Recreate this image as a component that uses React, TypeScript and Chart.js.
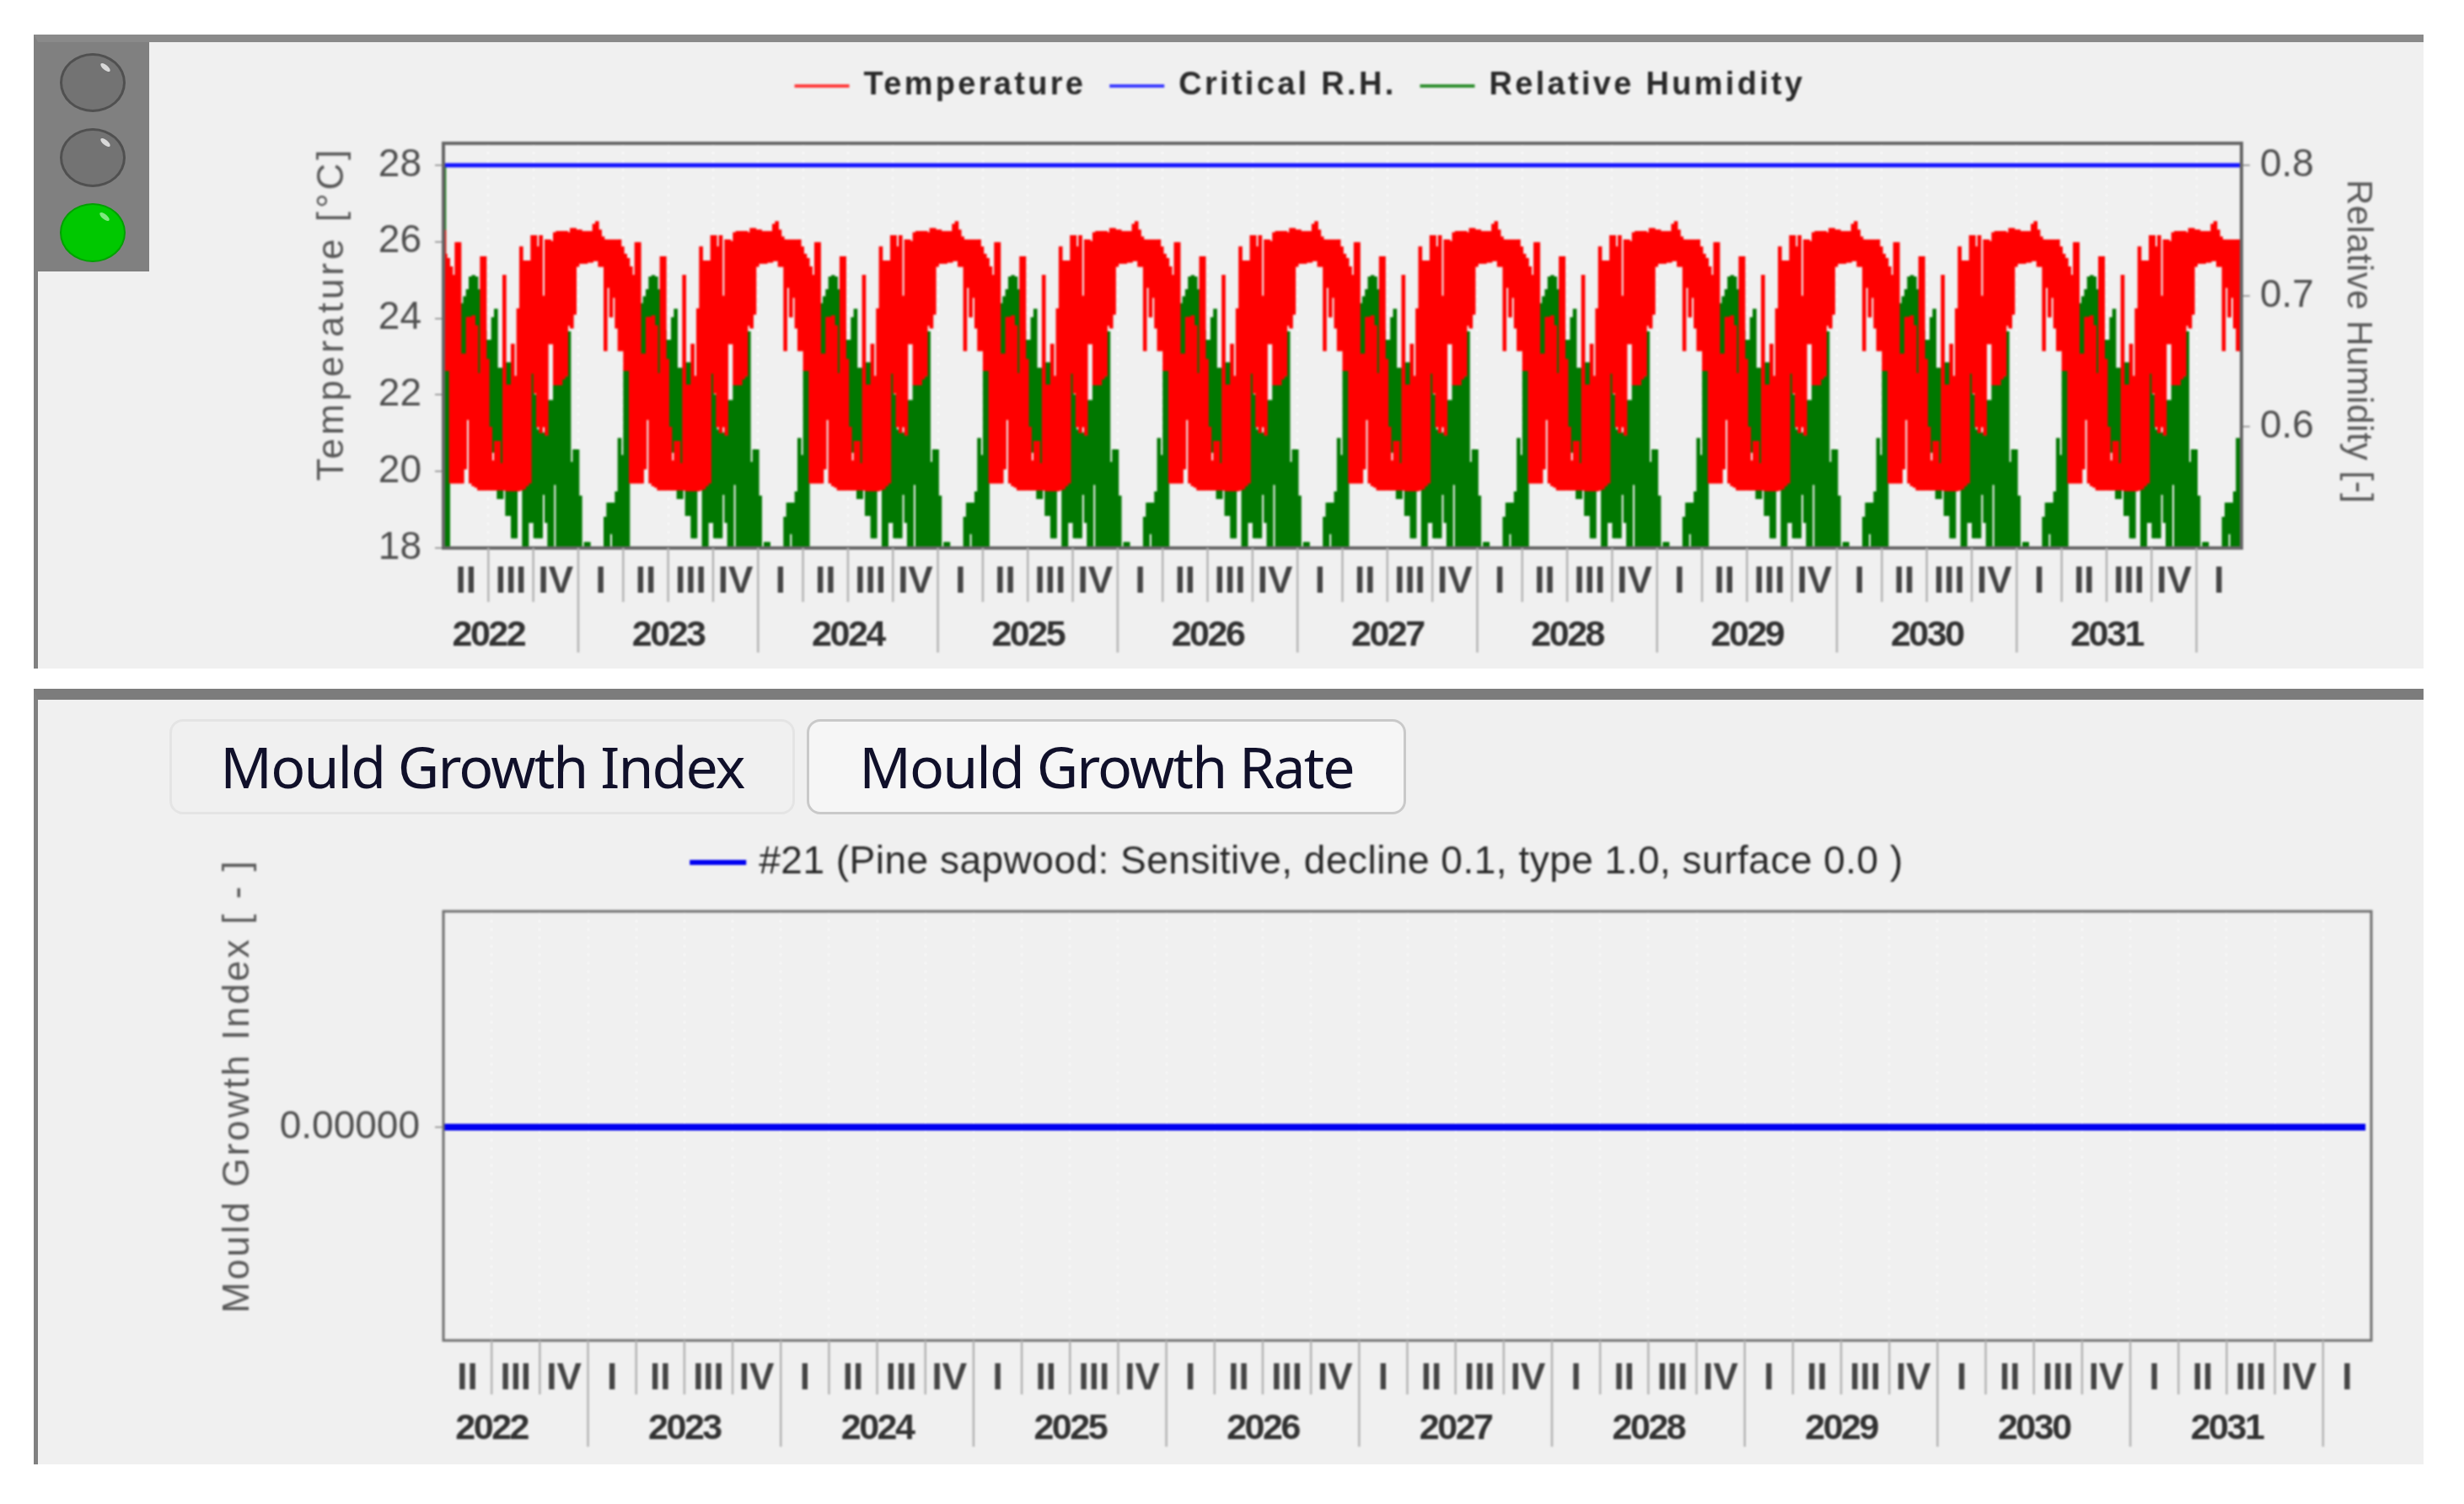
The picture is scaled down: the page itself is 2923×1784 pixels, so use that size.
import { useEffect, useRef } from "react"
import { Chart, registerables } from "chart.js"

Chart.register(...registerables)

const firstYear = 2022
const startTime = 2022.25
const endTime = 2032.25
const yearLabels = [2022, 2023, 2024, 2025, 2026, 2027, 2028, 2029, 2030, 2031]
const quarterNames = ["I", "II", "III", "IV"]

// one simulated year, April to April. the weather file repeats every year
const tempHigh = [
  25.68, 25.57, 25.35, 25.13, 25.98, 25.98, 23.07, 23.07, 24.03, 24.03, 24.07, 23.81, 22.56, 25.61, 25.61, 22.93,
  21.16, 20.28, 20.79, 20.79, 20.21, 25.13, 22.26, 22.26, 23.33, 22.49, 24.25, 25.87, 25.5, 25.5, 25.5, 26.16,
  26.16, 25.87, 26.16, 24.58, 26.05, 26.05, 26.01, 26.24, 26.27, 26.27, 26.27, 26.27, 26.24, 26.35, 26.35, 26.31,
  26.31, 26.27, 26.27, 26.27, 26.27, 26.46, 26.53, 26.31, 26.13, 26.05, 26.05, 26.05, 26.05, 26.05, 26.05, 25.87,
]
const tempLow = [
  22.63, 22.63, 19.69, 19.69, 19.69, 19.69, 19.69, 20.06, 21.35, 19.69, 19.62, 19.58, 19.51, 19.51, 19.51, 19.51,
  19.51, 19.51, 19.51, 19.51, 19.51, 19.51, 19.49, 19.49, 19.49, 19.49, 19.49, 19.51, 19.54, 19.62, 19.69, 22.56,
  22.04, 21.16, 21.01, 21.16, 20.94, 23.33, 23.33, 22.26, 22.26, 22.26, 22.41, 22.49, 23.81, 23.74, 24.1, 25.35,
  25.43, 25.43, 25.43, 25.46, 25.46, 25.5, 25.5, 25.35, 25.35, 23.15, 24.8, 24.03, 24.54, 23.74, 23.15, 23.15,
]
const rhHigh = [
  0.6426, 0.6426, null, null, null, null, 0.6942, 0.6995, 0.7049, 0.7146, 0.7157, 0.7146, 0.7049, 0.6727, 0.6737, 0.6662,
  0.6662, 0.6834, 0.6899, 0.6447, 0.6447, null, 0.649, 0.649, 0.5651, 0.5651, null, null, 0.5651, 0.5651, 0.5651, 0.6404,
  0.6243, 0.5974, 0.5953, 0.5953, 0.5931, 0.62, 0.62, 0.6318, 0.6318, 0.6318, 0.6361, 0.6383, 0.6727, 0.5727, 0.5823, 0.5823,
  0.5469, null, 0.5114, 0.5114, null, null, null, null, null, 0.5307, 0.5415, 0.5415, 0.5415, 0.5501, 0.591, 0.578,
]
const rhLow = [
  0.507, 0.507, null, null, null, null, 0.6512, 0.6512, 0.662, 0.662, 0.662, 0.662, 0.6404, 0.6404, 0.6081, 0.5974,
  0.5888, 0.5802, 0.5888, 0.5447, 0.5447, null, 0.5318, 0.5318, 0.5146, 0.5146, null, null, 0.507, 0.507, 0.5264, 0.5264,
  0.5146, 0.5146, 0.5146, 0.5479, 0.5264, 0.507, 0.507, 0.5555, 0.507, 0.507, 0.507, 0.507, 0.507, 0.507, 0.507, 0.507,
  0.507, null, 0.507, 0.507, null, null, null, null, null, 0.507, 0.507, 0.5178, 0.507, 0.507, 0.507, 0.507,
]
const criticalTimes = [2022.25, 2032.25]
const criticalRH = [0.8, 0.8]
const mouldTimes = [2022.25, 2032.22]
const mouldIndex = [0, 0]

const temperatureTicks = [18, 20, 22, 24, 26, 28]
const humidityTicks = [0.6, 0.7, 0.8]

function repeatYears(high: (number | null)[], low: (number | null)[]) {
  const out: { x: number; y: [number, number] }[] = []
  yearLabels.forEach((_, y) => {
    high.forEach((h, i) => {
      const l = low[i]
      if (h === null || l === null) return
      out.push({ x: startTime + y + (i + 0.7) / high.length, y: [l, h] })
    })
  })
  return out
}

function quarterBoundaries() {
  const out: number[] = []
  for (let t = startTime; t <= endTime; t += 0.25) out.push(t)
  return out
}

function dottedGrid(scale: any) {
  scale.ticks = quarterBoundaries().map((value) => ({ value }))
}

// draws the two-row time axis under the plot, with roman quarters and years
function drawTimeAxis(chart: any, quarterY: number, yearY: number, quarterEnd: number, yearEnd: number) {
  const { ctx, chartArea, scales } = chart
  const x = scales.x
  ctx.save()
  ctx.textAlign = "center"
  ctx.textBaseline = "middle"
  quarterBoundaries().forEach((t, n) => {
    const px = x.getPixelForValue(t)
    const isYear = Number.isInteger(t)
    if (n > 0 && t < endTime) {
      ctx.strokeStyle = "#b4b4b4"
      ctx.lineWidth = 2.5
      ctx.beginPath()
      ctx.moveTo(px, chartArea.bottom)
      ctx.lineTo(px, isYear ? yearEnd : quarterEnd)
      ctx.stroke()
    }
    if (t < endTime) {
      ctx.fillStyle = "#444444"
      ctx.font = "bold 44px 'Liberation Sans'"
      ctx.fillText(quarterNames[Math.round((t - firstYear) * 4) % 4], x.getPixelForValue(t + 0.125), quarterY)
    }
  })
  ctx.fillStyle = "#333333"
  ctx.font = "bold 43px 'Liberation Sans'"
  ctx.letterSpacing = "-2.5px"
  yearLabels.forEach((year) => ctx.fillText(String(year), x.getPixelForValue(year + 0.5), yearY))
  ctx.restore()
}

function drawLegend(chart: any, items: any[], y: number, font: string, spacing: string, swatch: number, textGap: number, itemGap: number) {
  const { ctx, width } = chart
  ctx.save()
  ctx.font = font
  ctx.letterSpacing = spacing
  ctx.textBaseline = "middle"
  const total = items.reduce((sum, it) => sum + swatch + textGap + ctx.measureText(it.label).width, 0) + itemGap * (items.length - 1)
  let cursor = width / 2 - total / 2
  items.forEach((it) => {
    ctx.strokeStyle = it.color
    ctx.lineWidth = it.lineWidth
    ctx.beginPath()
    ctx.moveTo(cursor, y)
    ctx.lineTo(cursor + swatch, y)
    ctx.stroke()
    cursor += swatch + textGap
    ctx.fillStyle = "#2a2a2a"
    ctx.fillText(it.label, cursor, y)
    cursor += ctx.measureText(it.label).width + itemGap
  })
  ctx.restore()
}

function drawRotated(chart: any, text: string, x: number, y: number, angle: number, font: string, spacing: string) {
  const { ctx } = chart
  ctx.save()
  ctx.translate(x, y)
  ctx.rotate(angle)
  ctx.font = font
  ctx.letterSpacing = spacing
  ctx.fillStyle = "#5a5a5a"
  ctx.textAlign = "center"
  ctx.textBaseline = "middle"
  ctx.fillText(text, 0, 0)
  ctx.restore()
}

function drawFrame(chart: any, width: number, color: string) {
  const { ctx, chartArea: a } = chart
  ctx.save()
  ctx.strokeStyle = color
  ctx.lineWidth = width
  ctx.strokeRect(a.left, a.top, a.right - a.left, a.bottom - a.top)
  ctx.restore()
}

function TemperatureChart() {
  const chartRef = useRef<HTMLCanvasElement>(null)
  const chartInstance = useRef<Chart | null>(null)

  useEffect(() => {
    if (!chartRef.current) return
    const ctx = chartRef.current.getContext("2d")
    if (!ctx) return

    chartInstance.current = new Chart(ctx, {
      type: "bar",
      data: {
        datasets: [
          {
            label: "Temperature",
            data: [{ x: startTime + 0.004, y: [23.15, 26.3] }, ...repeatYears(tempHigh, tempLow)],
            backgroundColor: "#ff0000",
            yAxisID: "y",
            barThickness: 4,
            grouped: false,
            order: 2,
          },
          {
            type: "line",
            label: "Critical R.H.",
            data: criticalTimes.map((x, i) => ({ x, y: criticalRH[i] })),
            borderColor: "#1212ff",
            borderWidth: 5,
            pointRadius: 0,
            yAxisID: "y1",
            order: 1,
          },
          {
            label: "Relative Humidity",
            data: [{ x: startTime + 0.004, y: [0.507, 0.8] }, ...repeatYears(rhHigh, rhLow)],
            backgroundColor: "#007800",
            yAxisID: "y1",
            barThickness: 4,
            grouped: false,
            order: 3,
          },
        ] as any,
      },
      options: {
        animation: false,
        responsive: false,
        devicePixelRatio: 1,
        layout: { padding: { top: 118, left: 0, right: 0, bottom: 0 } },
        plugins: { legend: { display: false }, tooltip: { enabled: false } },
        scales: {
          x: {
            type: "linear",
            min: startTime,
            max: endTime,
            offset: false,
            afterBuildTicks: dottedGrid,
            afterFit: (s: any) => { s.height = 142 },
            ticks: { display: false },
            grid: { offset: false, color: "rgba(255,255,255,0.75)", lineWidth: 2, drawTicks: false },
            border: { display: false, dash: [3, 7] },
          },
          y: {
            position: "left",
            min: 18,
            max: 28.57,
            afterBuildTicks: (s: any) => { s.ticks = temperatureTicks.map((value) => ({ value })) },
            afterFit: (s: any) => { s.width = 317 },
            ticks: { color: "#505050", font: { family: "Liberation Sans", size: 46 }, padding: 16 },
            grid: { drawOnChartArea: false, tickLength: 10, color: "#a0a0a0", lineWidth: 2 },
            border: { display: false },
          },
          y1: {
            position: "right",
            min: 0.507,
            max: 0.8168,
            afterBuildTicks: (s: any) => { s.ticks = humidityTicks.map((value) => ({ value })) },
            afterFit: (s: any) => { s.width = 216 },
            ticks: { color: "#505050", font: { family: "Liberation Sans", size: 46 }, padding: 12, callback: (v: any) => Number(v).toFixed(1) },
            grid: { drawOnChartArea: false, tickLength: 10, color: "#a0a0a0", lineWidth: 2 },
            border: { display: false },
          },
        },
      },
      plugins: [
        {
          id: "upperDecor",
          afterDraw(chart: any) {
            drawFrame(chart, 4, "#666666")
            drawTimeAxis(chart, 639, 702, 662, 722)
            drawLegend(
              chart,
              [
                { label: "Temperature", color: "#ff3c3c", lineWidth: 4 },
                { label: "Critical R.H.", color: "#3c3cff", lineWidth: 4 },
                { label: "Relative Humidity", color: "#2f8f2f", lineWidth: 4 },
              ],
              50,
              "bold 38px 'Liberation Sans'",
              "3.3px",
              65,
              17,
              28
            )
            drawRotated(chart, "Temperature [°C]", 186, 320, -Math.PI / 2, "44px 'Liberation Sans'", "4px")
            drawRotated(chart, "Relative Humidity [-]", 2588, 353, Math.PI / 2, "42px 'Liberation Sans'", "0.4px")
          },
        },
      ],
    })

    return () => {
      if (chartInstance.current) {
        chartInstance.current.destroy()
      }
    }
  }, [])

  return <canvas ref={chartRef} width={2666} height={740} style={{ position: "absolute", left: 209, top: 52, filter: "blur(0.8px)" }}></canvas>
}

function MouldChart() {
  const chartRef = useRef<HTMLCanvasElement>(null)
  const chartInstance = useRef<Chart | null>(null)

  useEffect(() => {
    if (!chartRef.current) return
    const ctx = chartRef.current.getContext("2d")
    if (!ctx) return

    chartInstance.current = new Chart(ctx, {
      type: "line",
      data: {
        datasets: [
          {
            label: "#21 (Pine sapwood: Sensitive, decline 0.1, type 1.0, surface 0.0 )",
            data: mouldTimes.map((x, i) => ({ x, y: mouldIndex[i] })),
            borderColor: "#0000f0",
            borderWidth: 8,
            pointRadius: 0,
          },
        ],
      },
      options: {
        animation: false,
        responsive: false,
        devicePixelRatio: 1,
        layout: { padding: { top: 251, left: 0, right: 62, bottom: 0 } },
        plugins: { legend: { display: false }, tooltip: { enabled: false } },
        scales: {
          x: {
            type: "linear",
            min: startTime,
            max: endTime,
            afterBuildTicks: dottedGrid,
            afterFit: (s: any) => { s.height = 147 },
            ticks: { display: false },
            grid: { color: "rgba(255,255,255,0.75)", lineWidth: 2, drawTicks: false },
            border: { display: false, dash: [3, 7] },
          },
          y: {
            min: -1,
            max: 1.012,
            afterBuildTicks: (s: any) => { s.ticks = [{ value: 0 }] },
            afterFit: (s: any) => { s.width = 325 },
            ticks: { color: "#505050", font: { family: "Liberation Sans", size: 46 }, padding: 18, callback: (v: any) => Number(v).toFixed(5) },
            grid: { drawOnChartArea: false, tickLength: 10, color: "#a0a0a0", lineWidth: 2 },
            border: { display: false },
          },
        },
      },
      plugins: [
        {
          id: "lowerDecor",
          afterDraw(chart: any) {
            drawFrame(chart, 3, "#707070")
            drawTimeAxis(chart, 806, 865, 824, 886)
            drawLegend(
              chart,
              [{ label: "#21 (Pine sapwood: Sensitive, decline 0.1, type 1.0, surface 0.0 )", color: "#0000f0", lineWidth: 6 }],
              193,
              "46px 'Liberation Sans'",
              "0.5px",
              67,
              15,
              0
            )
            drawRotated(chart, "Mould Growth Index [ - ]", 82, 458, -Math.PI / 2, "44px 'Liberation Sans'", "2.9px")
          },
        },
      ],
    })

    return () => {
      if (chartInstance.current) {
        chartInstance.current.destroy()
      }
    }
  }, [])

  return <canvas ref={chartRef} width={2674} height={907} style={{ position: "absolute", left: 201, top: 830, filter: "blur(0.8px)" }}></canvas>
}

function Lamp({ top, on }: { top: number; on?: boolean }) {
  return (
    <div
      style={{
        position: "absolute",
        left: 71,
        top,
        width: 78,
        height: 70,
        borderRadius: "50%",
        background: on ? "#00c800" : "#737373",
        border: on ? "2px solid #00a000" : "3px solid #505050",
        boxSizing: "border-box",
      }}
    >
      <div
        style={{
          position: "absolute",
          left: 44,
          top: 11,
          width: 14,
          height: 6,
          borderRadius: "50%",
          background: on ? "#80e880" : "#d8d8d8",
          transform: "rotate(40deg)",
        }}
      />
    </div>
  )
}

function Tab({ left, width, label, active }: { left: number; width: number; label: string; active?: boolean }) {
  return (
    <div
      style={{
        position: "absolute",
        left,
        top: 853,
        width,
        height: 113,
        boxSizing: "border-box",
        borderRadius: 16,
        border: active ? "3px solid #c9c9c9" : "3px solid #e4e4e4",
        background: active ? "#f6f6f6" : "#f0f0f0",
        color: "#10102a",
        font: "68px 'Noto Sans'",
        letterSpacing: "-1.9px",
        lineHeight: "105px",
        textAlign: "center",
        whiteSpace: "nowrap",
      }}
    >
      {label}
    </div>
  )
}

export default function App() {
  return (
    <div style={{ position: "absolute", left: 0, top: 0, width: 2923, height: 1784, background: "#ffffff", overflow: "hidden" }}>
      <div style={{ position: "absolute", left: 40, top: 41, width: 2835, height: 752, boxSizing: "border-box", background: "#f0f0f0", borderTop: "9px solid #8a8a8a", borderLeft: "5px solid #808080" }} />
      <div style={{ position: "absolute", left: 40, top: 817, width: 2835, height: 920, boxSizing: "border-box", background: "#f0f0f0", borderTop: "13px solid #7c7c7c", borderLeft: "5px solid #808080" }} />
      <div style={{ position: "absolute", left: 45, top: 50, width: 132, height: 272, background: "#808080" }} />
      <Lamp top={63} />
      <Lamp top={152} />
      <Lamp top={241} on />
      <Tab left={201} width={742} label="Mould Growth Index" />
      <Tab left={957} width={711} label="Mould Growth Rate" active />
      <TemperatureChart />
      <MouldChart />
    </div>
  )
}
